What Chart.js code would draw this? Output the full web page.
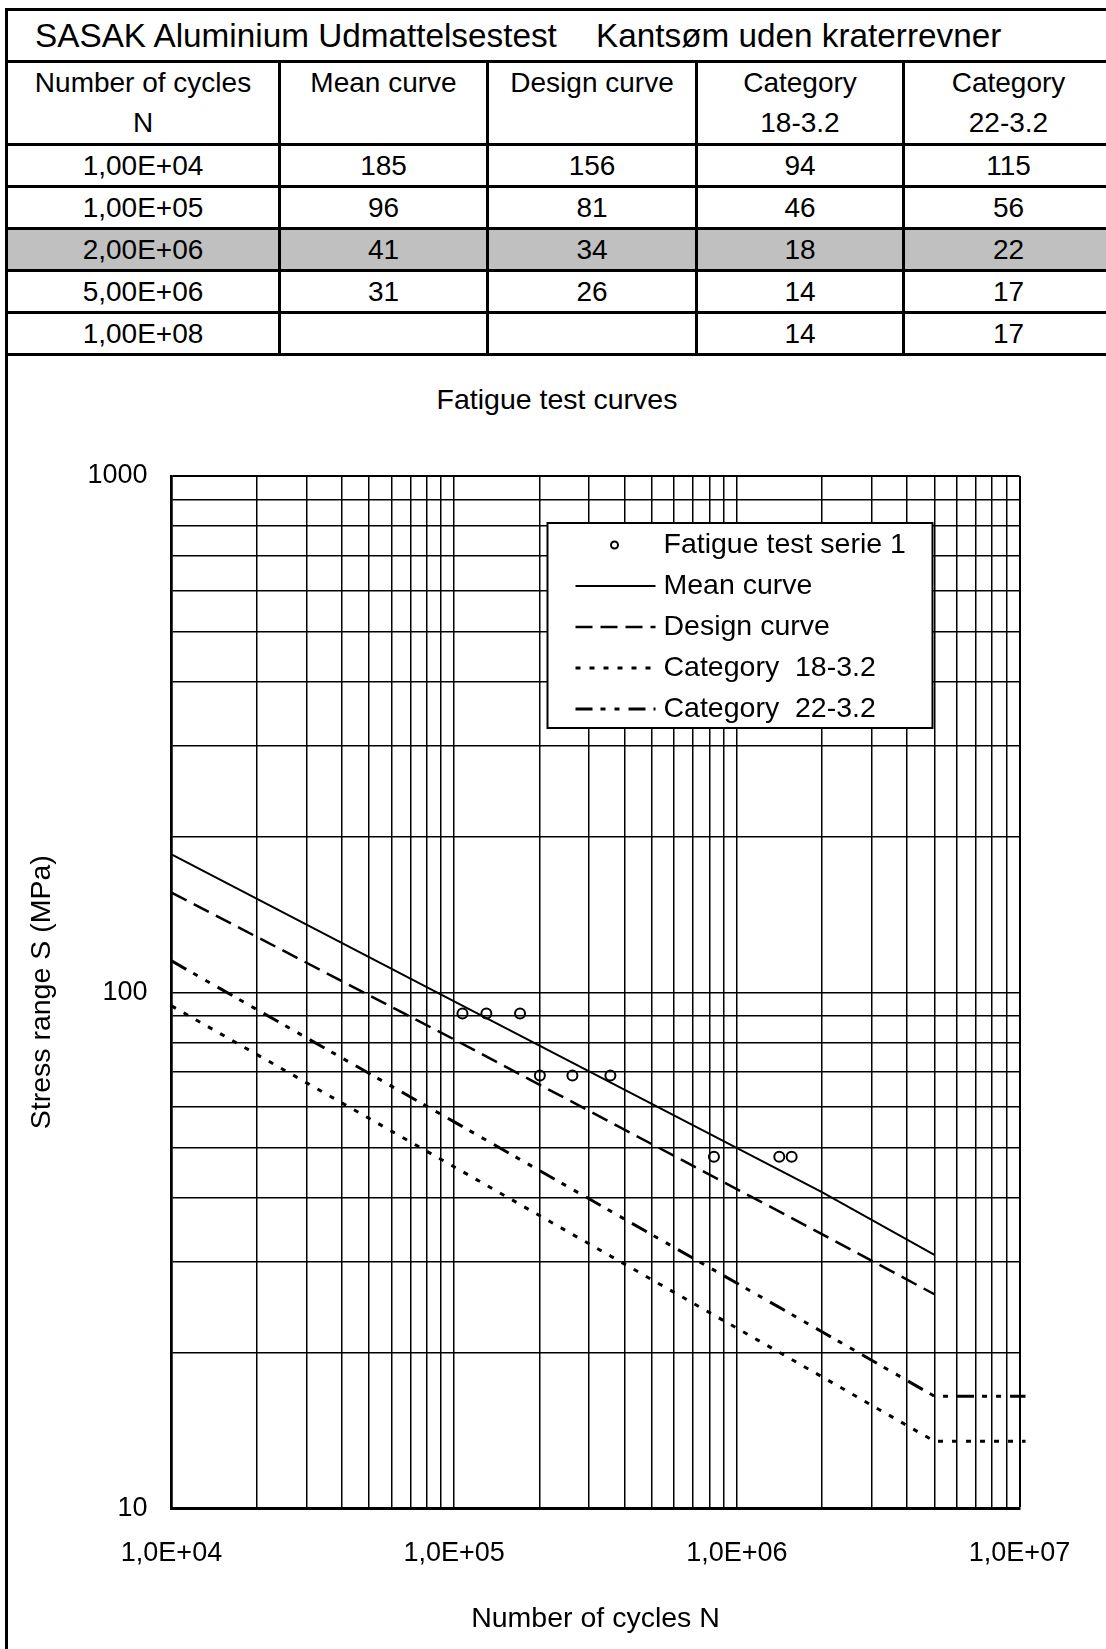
<!DOCTYPE html>
<html lang="da">
<head>
<meta charset="utf-8">
<title>SASAK Aluminium Udmattelsestest</title>
<script src="https://cdn.jsdelivr.net/npm/chart.js@4.4.1/dist/chart.umd.min.js"></script>
<style>
  html, body { margin: 0; padding: 0; background: #fff; }
  body {
    position: relative; width: 1106px; height: 1649px; overflow: hidden;
    font-family: "Liberation Sans", Arial, sans-serif; color: #000;
  }
  .frame {
    position: absolute; left: 5px; top: 8px; width: 1300px; height: 1800px;
    border-left: 3px solid #000; border-top: 3px solid #000;
  }
  .results {
    position: absolute; left: 8px; top: 11px;
    display: grid;
    grid-template-columns: 273px 208px 209px 207px 210px;
    grid-template-rows: 52px 83px repeat(5, 42px);
    font-size: 28px;
  }
  .results div {
    box-sizing: border-box;
    border-right: 3px solid #000; border-bottom: 3px solid #000;
    display: flex; align-items: center; justify-content: center;
    text-align: center; white-space: nowrap;
  }
  .results .heading {
    grid-column: 1 / span 5; justify-content: flex-start;
    position: relative; font-size: 33.3px; border-right: none; padding-left: 27px;
  }
  .results .heading .sub { position: absolute; left: 588px; }
  .results .head { line-height: 40px; }
  .results .ref { background: #c0c0c0; }
  .chart-title {
    position: absolute; left: 8px; width: 1098px; top: 382px;
    text-align: center; font-size: 28.5px; line-height: 34px;
  }
  #fatigueChart { position: absolute; left: 0; top: 356px; }
</style>
</head>
<body>
<div class="frame"></div>
<div class="results" id="results"></div>
<div class="chart-title">Fatigue test curves</div>
<canvas id="fatigueChart" width="1106" height="1293"></canvas>

<script>
// S-N data, stress range in MPa
const cycles = [1e4, 1e5, 2e6, 5e6, 1e8];
const meanCurve = [185, 96, 41, 31];
const designCurve = [156, 81, 34, 26];
const cat18 = [94.1, 45.9, 18, 13.5, 13.5];
const cat22 = [115, 56.1, 22, 16.5, 16.5];

// test results, serie 1
const testN = [107000, 130000, 171000, 201000, 262000, 357000, 830000, 1413000, 1563000];
const testS = [91, 91, 91, 69, 69, 69, 48, 48, 48];

const xTickValues = [1e4, 1e5, 1e6, 1e7];
const xTickLabels = ["1,0E+04", "1,0E+05", "1,0E+06", "1,0E+07"];
const yTickValues = [10, 100, 1000];
const yTickLabels = ["10", "100", "1000"];

const headers = ["Number of cycles<br>N", "Mean curve<br>&nbsp;", "Design curve<br>&nbsp;", "Category<br>18-3.2", "Category<br>22-3.2"];

function sci(n) {
  const parts = n.toExponential(2).split("e");
  const exp = parseInt(parts[1], 10);
  return parts[0].replace(".", ",") + "E" + (exp < 0 ? "-" : "+") + String(Math.abs(exp)).padStart(2, "0");
}

// table
const table = document.getElementById("results");
let html = '<div class="heading"><span>SASAK Aluminium Udmattelsestest</span><span class="sub">Kantsøm uden kraterrevner</span></div>';
headers.forEach(h => { html += '<div class="head">' + h + "</div>"; });
cycles.forEach((n, i) => {
  const cls = n === 2e6 ? ' class="ref"' : "";
  const row = [sci(n), meanCurve[i], designCurve[i], cat18[i], cat22[i]];
  row.forEach((v, j) => {
    const txt = j === 0 ? v : (v === undefined ? "" : Math.round(v));
    html += "<div" + cls + ">" + txt + "</div>";
  });
});
table.innerHTML = html;

function pairs(xs, ys) {
  return ys.map((y, i) => ({ x: xs[i], y: y }));
}

function logTicks(min, max) {
  const out = [];
  for (let e = Math.round(Math.log10(min)); e < Math.round(Math.log10(max)); e++) {
    for (let k = 1; k <= 9; k++) out.push({ value: k * Math.pow(10, e) });
  }
  out.push({ value: max });
  return out;
}

// legend box drawn inside the plot
const legendBox = {
  id: "legendBox",
  afterDatasetsDraw(chart) {
    const { ctx, chartArea } = chart;
    const x = chartArea.left + 376, y = chartArea.top + 47, w = 385, h = 205;
    ctx.save();
    ctx.fillStyle = "#fff";
    ctx.fillRect(x, y, w, h);
    ctx.strokeStyle = "#000";
    ctx.lineWidth = 2;
    ctx.strokeRect(x, y, w, h);
    ctx.font = '28.5px "Liberation Sans", Arial, sans-serif';
    ctx.textBaseline = "middle";
    ctx.fillStyle = "#000";
    chart.data.datasets.forEach((ds, i) => {
      const cy = y + 22 + i * 41;
      if (ds.showLine) {
        ctx.setLineDash(ds.borderDash || []);
        ctx.lineWidth = ds.borderWidth;
        ctx.beginPath();
        ctx.moveTo(x + 28, cy);
        ctx.lineTo(x + 108, cy);
        ctx.stroke();
        ctx.setLineDash([]);
      } else {
        ctx.lineWidth = 2;
        ctx.beginPath();
        ctx.arc(x + 67, cy, 3.5, 0, Math.PI * 2);
        ctx.stroke();
      }
      ctx.fillText(ds.label, x + 116, cy);
    });
    ctx.restore();
  }
};

Chart.defaults.font.family = '"Liberation Sans", Arial, sans-serif';
Chart.defaults.color = "#000";

const clipRight = { left: 0, top: 0, right: 6, bottom: 0 };

new Chart(document.getElementById("fatigueChart"), {
  type: "scatter",
  data: {
    datasets: [
      {
        label: "Fatigue test serie 1",
        data: pairs(testN, testS),
        showLine: false,
        pointRadius: 5,
        pointBorderWidth: 2,
        pointBorderColor: "#000",
        pointBackgroundColor: "rgba(0,0,0,0)"
      },
      {
        label: "Mean curve",
        data: pairs(cycles, meanCurve),
        showLine: true, pointRadius: 0,
        borderColor: "#000", borderWidth: 2
      },
      {
        label: "Design curve",
        data: pairs(cycles, designCurve),
        showLine: true, pointRadius: 0,
        borderColor: "#000", borderWidth: 2.5, borderDash: [17, 8]
      },
      {
        label: "Category  18-3.2",
        data: pairs(cycles, cat18),
        showLine: true, pointRadius: 0, clip: clipRight,
        borderColor: "#000", borderWidth: 3, borderDash: [5, 9]
      },
      {
        label: "Category  22-3.2",
        data: pairs(cycles, cat22),
        showLine: true, pointRadius: 0, clip: clipRight,
        borderColor: "#000", borderWidth: 3, borderDash: [17, 8, 5, 9, 5, 9]
      }
    ]
  },
  options: {
    responsive: false,
    animation: false,
    layout: { padding: { left: 7, top: 120, right: 86.5, bottom: 0 } },
    plugins: {
      legend: { display: false },
      tooltip: { enabled: false },
      title: { display: false }
    },
    scales: {
      x: {
        type: "logarithmic",
        min: xTickValues[0],
        max: xTickValues[xTickValues.length - 1],
        afterBuildTicks: s => { s.ticks = logTicks(s.min, s.max); },
        afterFit: s => { s.height = 140.5; },
        grid: {
          color: "#000", drawTicks: false,
          lineWidth: c => (c.tick && c.tick.value === xTickValues[xTickValues.length - 1] ? 2 : 1.5)
        },
        border: { color: "#000", width: 3 },
        ticks: {
          autoSkip: false, maxRotation: 0, minRotation: 0, padding: 29,
          font: { size: 27 },
          callback: v => { const i = xTickValues.indexOf(v); return i >= 0 ? xTickLabels[i] : ""; }
        },
        title: {
          display: true, text: "Number of cycles N",
          font: { size: 28.5 }, padding: { top: 0, bottom: 13 }
        }
      },
      y: {
        type: "logarithmic",
        min: yTickValues[0],
        max: yTickValues[yTickValues.length - 1],
        afterBuildTicks: s => { s.ticks = logTicks(s.min, s.max); },
        afterFit: s => { s.width = 164.5; },
        grid: {
          color: "#000", drawTicks: false,
          lineWidth: c => (c.tick && c.tick.value === yTickValues[yTickValues.length - 1] ? 2 : 1.5)
        },
        border: { color: "#000", width: 2.5 },
        ticks: {
          autoSkip: false, padding: 24,
          font: { size: 27 },
          callback: v => { const i = yTickValues.indexOf(v); return i >= 0 ? yTickLabels[i] : ""; }
        },
        title: {
          display: true, text: "Stress range S (MPa)",
          font: { size: 28.5 }, padding: { top: 18, bottom: 0 }
        }
      }
    }
  },
  plugins: [legendBox]
});
</script>
</body>
</html>
